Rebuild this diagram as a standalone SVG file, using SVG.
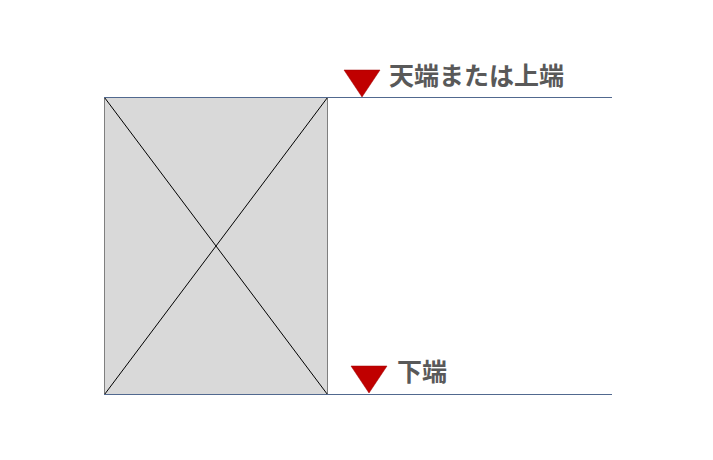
<svg xmlns="http://www.w3.org/2000/svg" width="713" height="460" viewBox="0 0 713 460">
<style>
.lbl{font-family:"Noto Sans CJK JP","Noto Sans CJK SC",sans-serif;font-weight:bold;font-size:25px;fill:#595959}
.guide{stroke:#51698f;stroke-width:1}
.mark{fill:#c00000;stroke:#a00000;stroke-width:0.5}
</style>
<rect width="713" height="460" fill="#ffffff"/>
<g id="panel">
<rect x="104.5" y="97.5" width="223" height="297" fill="#d9d9d9" stroke="#7f7f7f" stroke-width="1"/>
<line x1="104.5" y1="97.5" x2="327.5" y2="394.5" stroke="#000" stroke-width="1"/>
<line x1="327.5" y1="97.5" x2="104.5" y2="394.5" stroke="#000" stroke-width="1"/>
</g>
<g id="connectors">
<line class="guide" x1="104" y1="97.5" x2="612" y2="97.5"/>
<line class="guide" x1="104" y1="394.5" x2="612" y2="394.5"/>
</g>
<g id="top-label">
<polygon class="mark" points="344,70 380,70 362,97"/>
<text class="lbl" x="389" y="85">天端または上端</text>
</g>
<g id="bottom-label">
<polygon class="mark" points="351,366 387,366 369,393"/>
<text class="lbl" x="397" y="381">下端</text>
</g>
</svg>
